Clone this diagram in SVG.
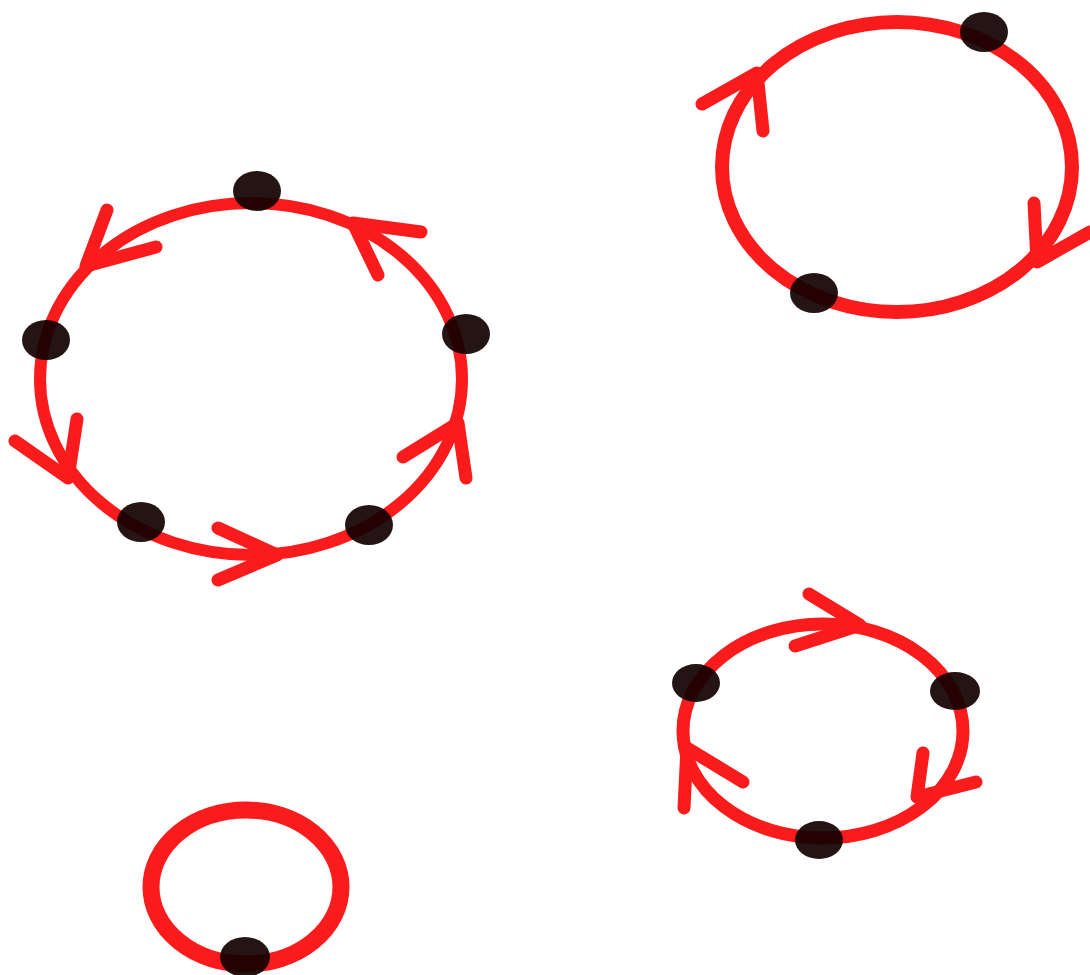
<svg xmlns="http://www.w3.org/2000/svg" width="1090" height="975" viewBox="0 0 1090 975">
<style>
.ring{fill:none;stroke:#fa1c1c;stroke-width:12}
.chev{fill:none;stroke:#fa1c1c;stroke-width:13;stroke-linecap:round;stroke-linejoin:round}
.dot{fill:#120000;fill-opacity:0.92}
</style>
<rect width="1090" height="975" fill="#fff"/>
<g id="connectors">
<ellipse class="ring" cx="251" cy="379" rx="211" ry="176"/>
<polyline class="chev" points="107,210 86,266 156,247"/>
<polyline class="chev" points="421,232 353,223 378,275"/>
<polyline class="chev" points="15,441 68,478 77,419"/>
<polyline class="chev" points="218,528 277,555 218,580"/>
<polyline class="chev" points="403,457 458,423 466,478"/>
<ellipse class="ring" cx="897" cy="167" rx="175" ry="145" style="stroke-width:14"/>
<polyline class="chev" points="702,104 757,73 763,131"/>
<polyline class="chev" points="1034,203 1037,262 1090,232"/>
<ellipse class="ring" cx="823" cy="731" rx="140" ry="107" style="stroke-width:13"/>
<polyline class="chev" points="809,594 860,625 795,646"/>
<polyline class="chev" points="923,753 917,797 976,782"/>
<polyline class="chev" points="684,808 687,748 743,782"/>
<ellipse class="ring" cx="246" cy="887" rx="95" ry="77" style="stroke-width:17"/>
</g>
<g id="n1"><ellipse class="dot" cx="257" cy="191" rx="24" ry="20"/></g>
<g id="n2"><ellipse class="dot" cx="46" cy="340" rx="24" ry="20"/></g>
<g id="n3"><ellipse class="dot" cx="466" cy="334" rx="24" ry="20"/></g>
<g id="n4"><ellipse class="dot" cx="141" cy="522" rx="24" ry="20"/></g>
<g id="n5"><ellipse class="dot" cx="369" cy="525" rx="24" ry="20"/></g>
<g id="n6"><ellipse class="dot" cx="984" cy="32" rx="24" ry="20"/></g>
<g id="n7"><ellipse class="dot" cx="814" cy="293" rx="24" ry="20"/></g>
<g id="n8"><ellipse class="dot" cx="696" cy="683" rx="24" ry="19"/></g>
<g id="n9"><ellipse class="dot" cx="955" cy="691" rx="25" ry="19"/></g>
<g id="n10"><ellipse class="dot" cx="819" cy="840" rx="24" ry="19"/></g>
<g id="n11"><ellipse class="dot" cx="245" cy="957" rx="25" ry="20"/></g>
</svg>
